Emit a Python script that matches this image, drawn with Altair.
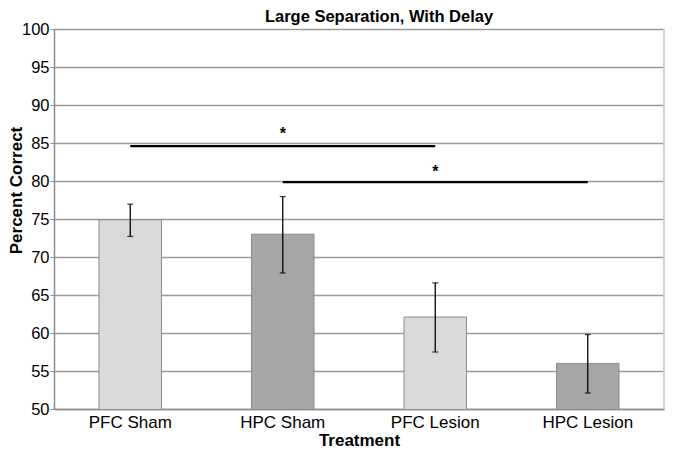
import altair as alt
import pandas as pd

treatments = ["PFC Sham", "HPC Sham", "PFC Lesion", "HPC Lesion"]
means = [74.9, 73.0, 62.1, 56.0]
err_low = [72.7, 67.9, 57.5, 52.1]
err_high = [76.95, 77.95, 66.6, 59.8]
fills = ["#d9d9d9", "#a6a6a6", "#d9d9d9", "#a6a6a6"]

sig_start = ["PFC Sham", "HPC Sham"]
sig_end = ["PFC Lesion", "HPC Lesion"]
sig_y = [84.6, 79.86]
star_x = ["HPC Sham", "PFC Lesion"]
star_y = [86.7, 81.7]
star_text = ["*", "*"]

FONT = "Liberation Sans"
W, H = 610, 380

bars_df = pd.DataFrame({"Treatment": treatments, "mean": means,
                        "lo": err_low, "hi": err_high})
sig_df = pd.DataFrame({"start": sig_start, "end": sig_end, "y": sig_y})
star_df = pd.DataFrame({"x": star_x, "y": star_y, "t": star_text})

xscale = alt.Scale(domain=treatments, paddingInner=0.59, paddingOuter=0.295)
yscale = alt.Scale(domain=[50, 100], nice=False, zero=False)

xaxis = alt.Axis(title="Treatment", labelAngle=0, ticks=False,
                 domainColor="#8c8c8c", domainWidth=1.5,
                 labelFont=FONT, labelFontSize=17, labelColor="black",
                 labelPadding=5, titleFont=FONT, titleFontSize=17,
                 titleFontWeight="bold", titleColor="black", titlePadding=2)
yaxis = alt.Axis(title="Percent Correct", values=list(range(50, 101, 5)),
                 labelOverlap=False, tickCount=11,
                 grid=True, gridColor="#9a9a9a", gridWidth=1.3,
                 domainColor="#8c8c8c", domainWidth=1.5,
                 tickColor="#8c8c8c", tickSize=4, labelPadding=1,
                 labelFont=FONT, labelFontSize=16.5, labelColor="black",
                 titleFont=FONT, titleFontSize=17, titleFontWeight="bold",
                 titleColor="black", titleX=-29, titleY=161)

X = lambda f: alt.X(f, scale=xscale, axis=xaxis, sort=treatments)
Y = lambda f: alt.Y(f, scale=yscale, axis=yaxis)

base = alt.Chart(bars_df)

bars = base.mark_bar(stroke="#8c8c8c", strokeWidth=1, clip=True).encode(
    x=X("Treatment:N"),
    y=Y("mean:Q"),
    color=alt.Color("Treatment:N", scale=alt.Scale(domain=treatments, range=fills), legend=None),
)

err = base.mark_rule(color="black", strokeWidth=1.3).encode(
    x=X("Treatment:N"),
    y=Y("lo:Q"),
    y2="hi:Q",
)
cap_lo = base.mark_tick(color="black", size=6, thickness=1.3).encode(
    x=X("Treatment:N"),
    y=Y("lo:Q"),
)
cap_hi = base.mark_tick(color="black", size=6, thickness=1.3).encode(
    x=X("Treatment:N"),
    y=Y("hi:Q"),
)

sig = alt.Chart(sig_df).mark_rule(color="black", strokeWidth=2.2).encode(
    x=X("start:N"),
    x2="end:N",
    y=Y("y:Q"),
)

stars = alt.Chart(star_df).mark_text(font=FONT, fontSize=16, fontWeight="bold",
                                     color="black", baseline="middle", dy=4).encode(
    x=X("x:N"),
    y=Y("y:Q"),
    text="t:N",
)

border = alt.Chart(bars_df).mark_rule(color="#d0d0d0", strokeWidth=2).encode(
    x=alt.value(W), y=alt.value(0), y2=alt.value(H)
)

chart = alt.layer(bars, err, cap_lo, cap_hi, sig, stars, border).properties(
    width=W, height=H,
    title=alt.TitleParams("Large Separation, With Delay", font=FONT, fontSize=16.5,
                          fontWeight="bold", color="black", anchor="middle",
                          dx=20, dy=10, offset=6),
    autosize=alt.AutoSizeParams(type="none"),
    padding={"left": 46, "top": 21, "right": 1, "bottom": 41},
).configure_view(stroke=None)

chart.save("out.html", embed_options={"renderer": "svg", "actions": False})
